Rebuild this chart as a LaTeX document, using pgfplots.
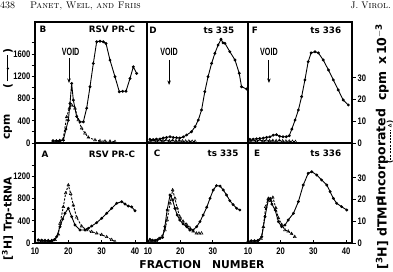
\documentclass[border=0pt]{standalone}
\usepackage{fontspec}
\usepackage{pgfplots}
\pgfplotsset{compat=1.18}
\usetikzlibrary{arrows.meta}

\newfontfamily\condf{Liberation Sans}[FakeStretch=0.8]
\newfontfamily\voidf{Liberation Sans}[FakeStretch=0.68]
\newfontfamily\labf{DejaVu Sans}

\newcommand{\tickfont}{\condf\bfseries\fontsize{9.5}{10}\selectfont}
\newcommand{\panelfont}{\labf\bfseries\fontsize{8.8}{10}\selectfont}

\tikzset{voidarrow/.style={line width=1pt, -{Stealth[length=4.5pt, width=3.5pt]}}}

\pgfplotsset{
  base/.style={
    scale only axis, clip=false, anchor=south west,
    xtick=\empty, ytick=\empty,
    tick align=inside, major tick length=3.5pt, minor tick length=3.5pt,
    tick style={black, line width=0.9pt},
    axis line style={black, line width=1.1pt},
    every tick label/.append style={font=\tickfont, black},
    /pgf/number format/assume math mode=true,
    /pgf/number format/1000 sep={},
  },
  colAB/.style={xmin=10, xmax=43.6, width=112pt},
  colCD/.style={xmin=9.7, xmax=40.8, width=101pt},
  colEF/.style={xmin=10, xmax=41.8, width=104pt},
  rowT/.style={height=121pt},
  rowB/.style={height=100pt},
  cpmT/.style={ymin=0, ymax=2175},
  cpmB/.style={ymin=0, ymax=1798},
  tmpT/.style={ymin=0, ymax=55.8},
  tmpB/.style={ymin=0, ymax=46.1},
  lefty/.style={ytick pos=left, y tick style={xshift=-3.5pt},
    yticklabel style={xshift=-1.2pt}},
  botx/.style={xtick pos=left, xtick={10,20,30,40},
    xticklabel style={yshift=-1pt}},
  righty/.style={axis x line=none, axis y line*=right,
    ytick={0,10,20,30}, y tick style={xshift=3.5pt},
    yticklabel style={xshift=2pt}},
  trp/.style={black, line width=0.9pt, mark=*, mark size=0.95pt},
  tmp/.style={black, line width=0.9pt, dash pattern=on 2.2pt off 1.4pt,
    mark=triangle, mark size=1.6pt, mark options={solid, line width=0.5pt}},
}

\begin{document}
\begin{tikzpicture}[x=1pt, y=1pt]
\useasboundingbox (0,0) rectangle (393,271);

% running head
\node[anchor=base west, inner sep=0, font=\fontsize{10}{12}\selectfont] at (0,262.5) {438};
\node[anchor=base west, inner sep=0, font=\fontsize{9.6}{12}\selectfont] at (30,262.5) {\textsc{Panet, Weil, and Friis}};
\node[anchor=base east, inner sep=0, font=\fontsize{9.6}{12}\selectfont] at (391,262.5) {J. V\textsc{irol}.};

% ---------------- panel B : RSV PR-C, top left ----------------
\begin{axis}[base, colAB, rowT, cpmT, at={(35pt,128pt)}, lefty,
  ytick={0,400,...,1600}, minor ytick={200,600,...,1800}]
\addplot[trp] coordinates {
 (15.4,40) (16.4,40) (17.4,45) (18.5,50) (19.3,250) (20,410) (20.5,710)
 (21,1070) (21.5,770) (22.5,475) (23.5,380) (24.5,380) (25.5,625)
 (26.5,1010) (27.5,1430) (28.5,1820) (29.5,1830) (30.5,1820) (31.3,1790)
 (32.5,1490) (34,1190) (35.3,920) (36.3,930) (37.3,930) (38.5,1160)
 (39.5,1370) (40.5,1250)};
\node[font=\panelfont] at (rel axis cs:0.071,0.94) {B};
\node[font=\panelfont, anchor=east] at (rel axis cs:0.925,0.94) {RSV\,\,PR-C};
\node[font=\voidf\bfseries\fontsize{10.5}{11}\selectfont] at (axis cs:20.7,1636) {VOID};
\draw[voidarrow] (axis cs:20.2,1528) -- (axis cs:20.2,1079);
\end{axis}
\begin{axis}[base, colAB, rowT, tmpT, at={(35pt,128pt)}, hide axis]
\addplot[tmp] coordinates {
 (15.4,0.8) (16.4,0.8) (17.4,1) (18.4,1.5) (19.5,12) (20.3,16) (21,17.5)
 (22,16) (23,10.6) (24,6.8) (25,4.5) (26,2.6) (28,1.4) (29.5,1) (31,0.8)
 (32.5,0.8) (34,0.6)};
\end{axis}

% ---------------- panel D : ts 335, top middle ----------------
\begin{axis}[base, colCD, rowT, cpmT, at={(147pt,128pt)}]
\addplot[trp] coordinates {
 (10.6,66) (11.6,60) (12.6,70) (13.7,71) (14.7,90) (15.7,100) (16.8,113)
 (17.8,100) (18.8,95) (19.8,90) (20.9,110) (21.9,144) (23.4,203)
 (24.5,293) (25.5,413) (26.5,593) (27.5,922) (28.5,1192) (29.6,1432)
 (30.6,1612) (31.6,1762) (32.5,1865) (33.1,1800) (33.7,1792) (35.2,1642)
 (36.8,1492) (38.1,1253) (38.8,1012) (40.4,970)};
\node[font=\panelfont] at (rel axis cs:0.06,0.93) {D};
\node[font=\panelfont, anchor=east] at (rel axis cs:0.90,0.93) {ts\,\,335};
\node[font=\voidf\bfseries\fontsize{10.5}{11}\selectfont] at (axis cs:16.5,1636) {VOID};
\draw[voidarrow] (axis cs:16.5,1492) -- (axis cs:16.5,1043);
\end{axis}
\begin{axis}[base, colCD, rowT, tmpT, at={(147pt,128pt)}, hide axis]
\addplot[tmp] coordinates {
 (10.6,1) (11.6,1.2) (12.6,1) (13.6,1.2) (14.6,1) (15.6,1.3) (16.6,1)
 (17.6,1.2) (18.6,1) (19.6,1.1) (20.6,0.9) (21.6,0.8) (22.6,0.8)
 (23.6,0.7) (24.5,0.7)};
\end{axis}

% ---------------- panel F : ts 336, top right ----------------
\begin{axis}[base, colEF, rowT, cpmT, at={(248pt,128pt)}]
\addplot[trp] coordinates {
 (10.6,66) (11.6,70) (12.6,75) (13.6,80) (14.7,90) (15.7,100) (16.7,110)
 (17.7,140) (18.7,150) (19.7,120) (20.7,113) (21.7,113) (22.6,130)
 (23.4,250) (24.4,413) (25.4,593) (26.4,833) (27.4,1133) (28.4,1462)
 (29.3,1620) (30.5,1640) (31.5,1620) (33,1492) (34.6,1312) (36.1,1133)
 (37.6,953) (39.1,773) (40.7,683)};
\node[font=\panelfont] at (rel axis cs:0.067,0.93) {F};
\node[font=\panelfont, anchor=east] at (rel axis cs:0.93,0.93) {ts\,\,336};
\node[font=\voidf\bfseries\fontsize{10.5}{11}\selectfont] at (axis cs:16.4,1636) {VOID};
\draw[voidarrow] (axis cs:16.4,1492) -- (axis cs:16.4,1079);
\end{axis}
\begin{axis}[base, colEF, rowT, tmpT, at={(248pt,128pt)}, righty]
\addplot[tmp] coordinates {
 (10.6,1) (11.6,1.2) (12.6,1) (13.6,1.3) (14.6,1) (15.6,1.2) (16.6,1)
 (17.6,1.1) (18.6,1) (19.6,1.2) (20.6,0.9) (21.6,0.8) (22.6,0.8)
 (23.6,0.7) (24.5,0.6)};
\end{axis}

% ---------------- panel A : RSV PR-C, bottom left ----------------
\begin{axis}[base, colAB, rowB, cpmB, at={(35pt,28pt)}, lefty, botx,
  ytick={0,400,...,1200}, minor ytick={200,600,...,1600}]
\addplot[trp] coordinates {
 (11,54) (12,50) (13,45) (14,45) (15,45) (15.8,60) (16.5,113) (17.5,293)
 (18.3,430) (19,534) (20,624) (21,473) (22,324) (23.5,234) (25,234)
 (26,265) (27,305) (28.5,365) (30,444) (31.5,534) (33,624) (34.5,714)
 (36,743) (37,700) (38,665) (39,650) (40,580)};
\node[font=\panelfont] at (rel axis cs:0.09,0.89) {A};
\node[font=\panelfont, anchor=east] at (rel axis cs:0.925,0.89) {RSV\,\,PR-C};
\end{axis}
\begin{axis}[base, colAB, rowB, tmpB, at={(35pt,28pt)}, hide axis]
\addplot[tmp] coordinates {
 (11,1.2) (12,1) (13,1) (14,1) (15,1) (16,1.5) (17,4) (17.5,9) (18.5,16.7)
 (19.2,23) (20,26.7) (20.7,22.7) (21.5,17.4) (22.5,11.8) (24,7.7)
 (25.5,6) (27,5.2) (28.5,4.5) (30,3.8) (31.5,2.8) (33,1.5) (34,0.6)};
\end{axis}

% ---------------- panel C : ts 335, bottom middle ----------------
\begin{axis}[base, colCD, rowB, cpmB, at={(147pt,28pt)}, botx, xtick={10,20,30}]
\addplot[trp] coordinates {
 (10.6,66) (11.4,50) (12.2,47) (13,60) (13.7,84) (14.5,100) (15.2,293)
 (15.9,593) (16.8,863) (17.6,773) (18.3,623) (19,503) (19.8,413)
 (20.8,344) (21.9,293) (22.9,233) (23.9,233) (25,293) (26,383) (27,503)
 (28.1,642) (29.1,803) (30.1,953) (31.1,1031) (32.2,1023) (33.2,953)
 (34.2,863) (35.2,761) (36.2,690) (37.3,624) (38.3,593)};
\node[font=\panelfont] at (rel axis cs:0.1,0.9) {C};
\node[font=\panelfont, anchor=east] at (rel axis cs:0.94,0.9) {ts\,\,335};
\end{axis}
\begin{axis}[base, colCD, rowB, tmpB, at={(147pt,28pt)}, hide axis]
\addplot[tmp] coordinates {
 (10.6,1) (11.5,0.8) (12.5,1) (13.4,2) (14.3,2.9) (15.2,6) (15.9,10.6)
 (16.8,18.3) (17.6,24.4) (18.3,20.6) (19,16) (19.8,12.1) (20.8,10)
 (21.9,8.5) (22.9,7) (23.9,5.4) (24.9,4.5) (25.7,4.5) (26.5,4.5)};
\end{axis}

% ---------------- panel E : ts 336, bottom right ----------------
\begin{axis}[base, colEF, rowB, cpmB, at={(248pt,28pt)}, botx]
\addplot[trp] coordinates {
 (10,30) (11,40) (12,40) (13,45) (14.2,113) (15.2,473) (16.2,773)
 (16.8,800) (17.3,700) (18.3,593) (19.3,383) (20.3,293) (21.3,322)
 (22.3,413) (23.9,534) (25.4,743) (26.9,1043) (28.4,1253) (29.5,1282)
 (31,1223) (32.5,1133) (34.1,1043) (35.1,923) (36.1,803) (37.1,714)
 (38.6,654) (40.2,593)};
\node[font=\panelfont] at (rel axis cs:0.087,0.9) {E};
\node[font=\panelfont, anchor=east] at (rel axis cs:0.93,0.9) {ts\,\,336};
\end{axis}
\begin{axis}[base, colEF, rowB, tmpB, at={(248pt,28pt)}, righty]
\addplot[tmp] coordinates {
 (10,0.5) (11,0.5) (12,0.5) (13,0.6) (14,2) (14.7,7.5) (15.4,16.7)
 (16.2,20.5) (17,19.5) (17.6,21) (18.5,16.2) (19.3,11.5) (20.3,8.5)
 (21.3,6) (22.3,5.4) (23.3,4.3) (24.3,2.9)};
\end{axis}

% axis titles
\begin{scope}[every node/.style={inner sep=0, rotate=90, font=\labf\bfseries\fontsize{10.8}{12}\selectfont}]
\node at (8,52.5) {{[}\textsuperscript{3}H{]} Trp-tRNA};
\node at (8,144) {cpm};
\node at (8,202.5) {(\,\tikz[baseline=-0.6ex, x=1pt, y=1pt]{\draw[line width=1pt] (0,0) -- (26,0); \fill (13,0) circle (1.3);}\,)};
\node[font=\labf\bfseries\fontsize{12.5}{14}\selectfont] at (382,37.5) {{[}\textsuperscript{3}H{]} dTMP};
\node[font=\labf\bfseries\fontsize{12.5}{14}\selectfont] at (382,116.5) {Incorporated};
\node[font=\labf\bfseries\fontsize{12.5}{14}\selectfont] at (382,209) {cpm\,\,\,x\,10\textsuperscript{$-$3}};
\node[font=\labf\bfseries\fontsize{7}{8}\selectfont] at (390,129) {(\tikz[baseline=-0.6ex, x=1pt, y=1pt]{\draw[line width=0.8pt, dash pattern=on 2pt off 1.3pt] (0,0) -- (30,0); \draw[line width=0.5pt] (33,-1.3) -- (36,-1.3) -- (34.5,1.5) -- cycle;})};
\end{scope}

\node[anchor=base, inner sep=0, font=\labf\bfseries\fontsize{10.8}{12}\selectfont] at (202,3) {FRACTION\hspace{11pt}NUMBER};
\end{tikzpicture}
\end{document}
